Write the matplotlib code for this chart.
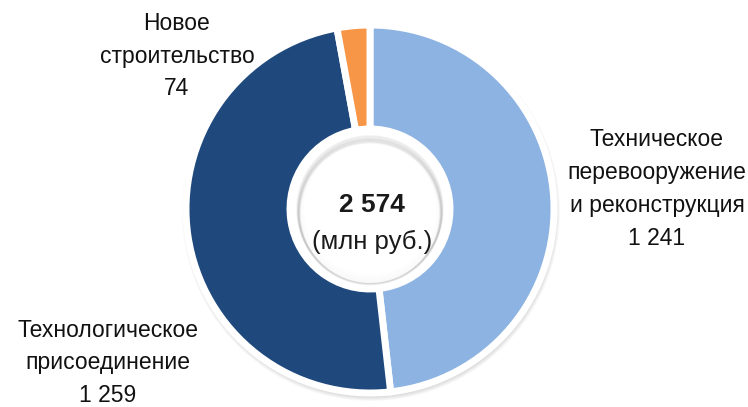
import matplotlib.pyplot as plt
from matplotlib.patches import Circle

# slices, clockwise from the top
labels = ['Техническое\nперевооружение\nи реконструкция', 'Технологическое\nприсоединение', 'Новое\nстроительство']
values = [1241, 1259, 74]
colors = ['#8DB3E2', '#1F497D', '#F79646']
total = sum(values)
unit = '(млн руб.)'

plt.rcParams['font.family'] = ['Liberation Sans Narrow', 'Liberation Sans', 'DejaVu Sans']

W, H = 748, 407
fig = plt.figure(figsize=(W / 100, H / 100), dpi=100)
ax = fig.add_axes([0, 0, 1, 1])

cx, cy = 370, H - 209
r_out, r_in = 184, 80

# soft shadow under the ring
for i in range(6):
    ax.add_patch(Circle((cx + 1, cy - 3), r_out + 1 + i * 0.8, color='#000000',
                        alpha=0.025, zorder=0, lw=0))

ax.pie(values, colors=colors, startangle=90, counterclock=False,
       center=(cx, cy), radius=r_out, frame=True,
       wedgeprops=dict(width=r_out - r_in, edgecolor='white', linewidth=5))
ax.set_xlim(0, W)
ax.set_ylim(0, H)
ax.set_aspect('equal')
ax.axis('off')

# inner white disc with a soft grey inner edge, darker at the top
ax.add_patch(Circle((cx, cy), r_in, color='white', zorder=3, lw=0))
for i in range(8):
    ax.add_patch(Circle((cx, cy), 73 - i * 0.9, fill=False, edgecolor='#808080',
                        alpha=0.09 - i * 0.01, lw=1.2, zorder=4))
for i in range(5):
    ax.add_patch(Circle((cx, cy - 2 - i * 0.6), 72 - i * 0.3, fill=False, edgecolor='#404040',
                        alpha=0.045, lw=1.5, zorder=4))
ax.add_patch(Circle((cx, cy - 5), 69, color='white', zorder=4, lw=0, alpha=0.75))

ax.text(cx + 2, H - 205, f'{total:,}'.replace(',', ' '), ha='center', va='center',
        fontsize=19, fontweight='bold', color='#1a1a1a', zorder=5)
ax.text(cx + 2, H - 242, unit, ha='center', va='center',
        fontsize=18.5, color='#1a1a1a', zorder=5)

label_pos = [(657, H - 189), (108, H - 363), (177, H - 56)]
for lab, v, (x, y) in zip(labels, values, label_pos):
    ax.text(x, y, lab + '\n' + f'{v:,}'.replace(',', ' '), ha='center', va='center',
            fontsize=16.5, color='#111111', linespacing=1.55)

fig.savefig('out.png', dpi=100)
